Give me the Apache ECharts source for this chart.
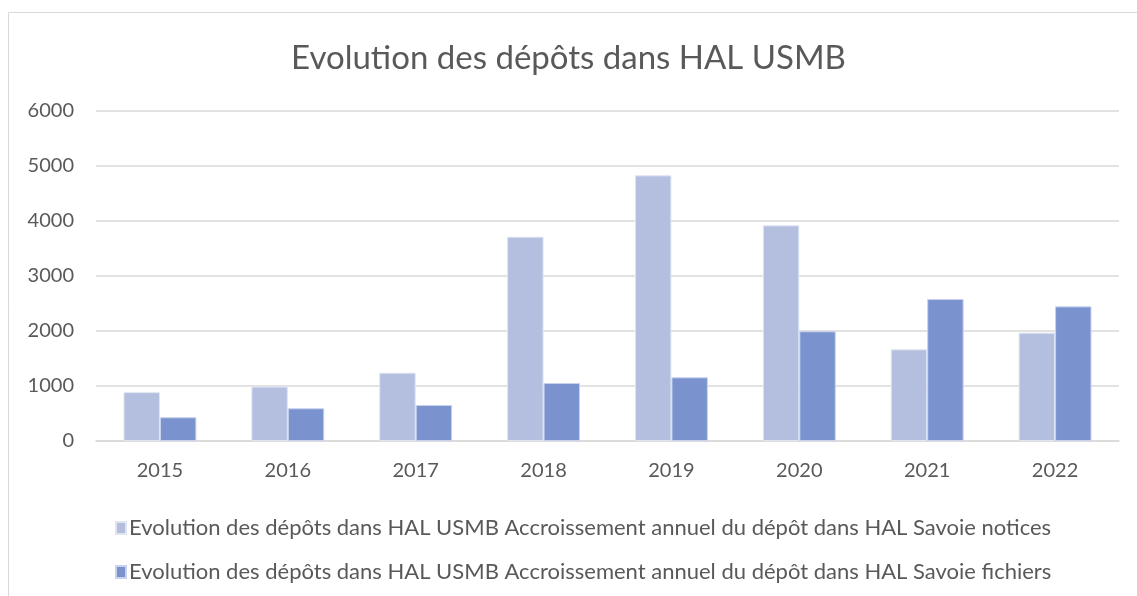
<!DOCTYPE html>
<html><head><meta charset="utf-8">
<script src="https://cdn.jsdelivr.net/npm/echarts@6/dist/echarts.min.js"></script>
<style>html,body{margin:0;padding:0;background:#fff}#c{width:1137px;height:596px}</style>
</head><body><div id="c"></div>
<script>
const categories = ['2015','2016','2017','2018','2019','2020','2021','2022'];
const notices = [888, 990, 1242, 3715, 4830, 3921, 1667, 1970];
const fichiers = [432, 595, 655, 1055, 1158, 1995, 2582, 2448];
const seriesNames = [
  'Evolution des dépôts dans HAL USMB Accroissement annuel du dépôt dans HAL Savoie notices',
  'Evolution des dépôts dans HAL USMB Accroissement annuel du dépôt dans HAL Savoie fichiers'
];
const titleText = 'Evolution des dépôts dans HAL USMB';
const FONT = 'Lato, "Open Sans", sans-serif';
const chart = echarts.init(document.getElementById('c'), null, {renderer:'canvas'});
chart.setOption({
  animation:false,
  textStyle:{fontFamily:FONT},
  graphic:[{type:'rect', shape:{x:8.5,y:12.5,width:1140,height:600}, style:{fill:'none', stroke:'#d9d9d9', lineWidth:1}, silent:true, z:-1}],
  title:{text:titleText, left:'center', top:37, textStyle:{fontFamily:FONT, fontSize:33, fontWeight:'normal', color:'#595959'}},
  legend:{orient:'vertical', left:110, top:512, itemGap:22, itemWidth:10, itemHeight:12, icon:'rect',
    textStyle:{fontFamily:FONT, fontSize:22, color:'#595959', padding:[0,0,0,-2]}},
  grid:{left:96, right:18, top:111, bottom:155, containLabel:false},
  xAxis:{type:'category', data:categories,
    axisLine:{lineStyle:{color:'#d9d9d9', width:1.5}}, axisTick:{show:false},
    axisLabel:{fontFamily:FONT, fontSize:20, color:'#595959', margin:20}},
  yAxis:{type:'value', min:0, max:6000, interval:1000,
    axisLine:{show:false}, axisTick:{show:false},
    splitLine:{lineStyle:{color:'#d9d9d9', width:1.5}},
    axisLabel:{fontFamily:FONT, fontSize:20, color:'#595959', margin:22, formatter:function(v){return String(v);}}},
  series:[
    {name:seriesNames[0], type:'bar', data:notices, barGap:'0%', barCategoryGap:'43%',
      itemStyle:{color:'#b4bfdf', borderColor:'#dfe5f3', borderWidth:1}},
    {name:seriesNames[1], type:'bar', data:fichiers,
      itemStyle:{color:'#7a93cf', borderColor:'#c9d3ee', borderWidth:1}}
  ]
});
</script></body></html>
